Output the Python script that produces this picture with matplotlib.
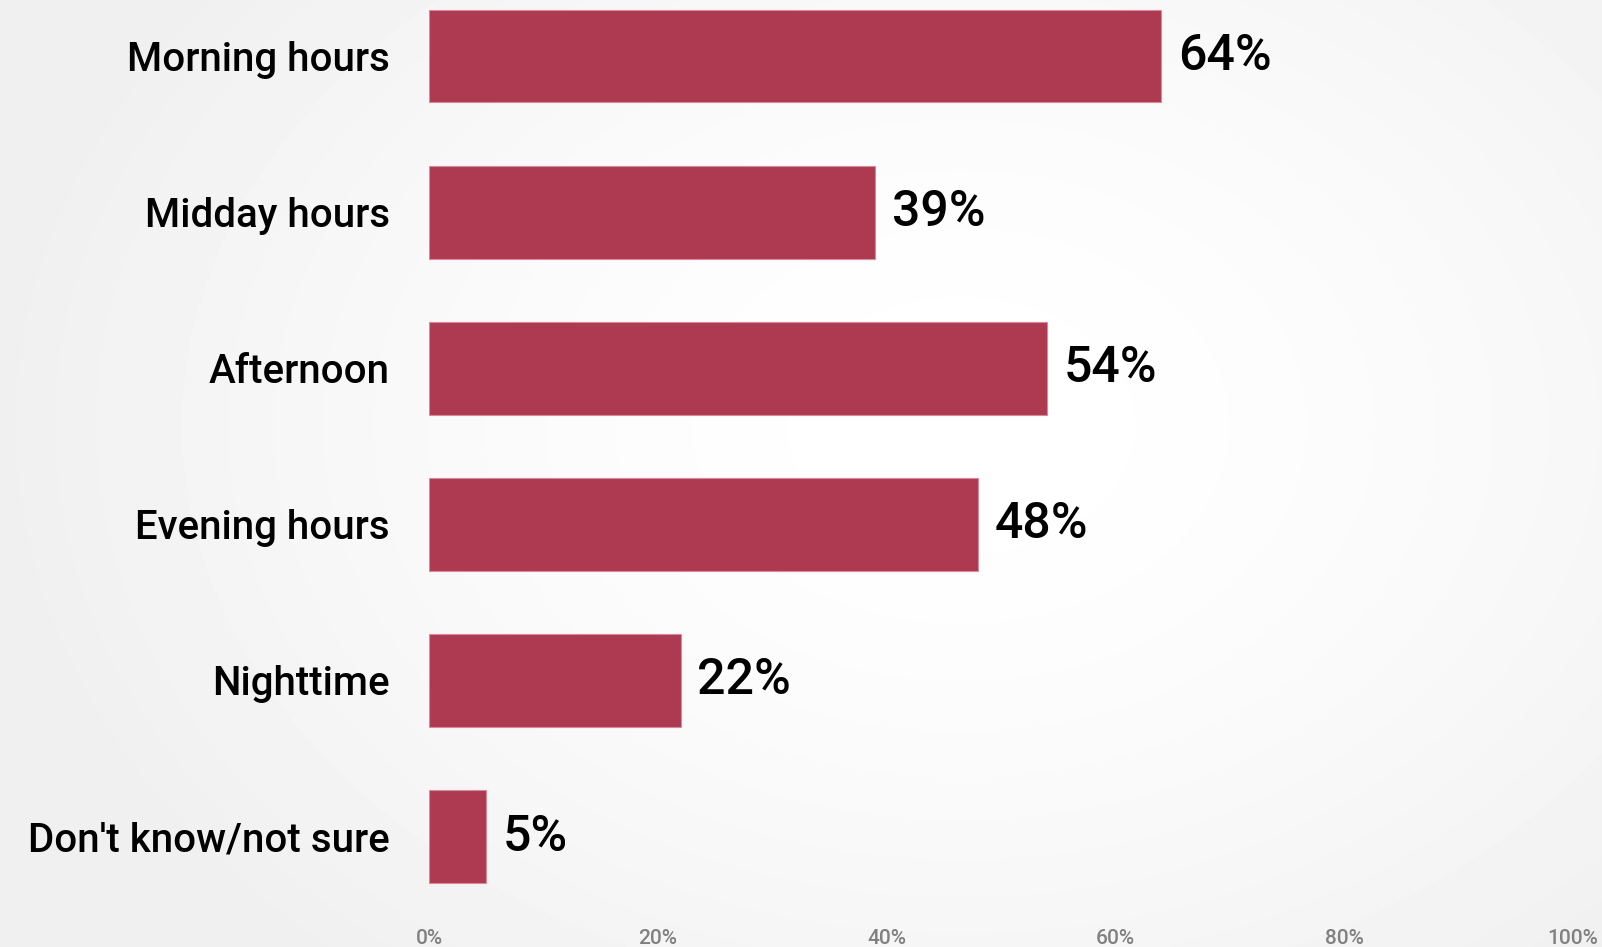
import numpy as np
import matplotlib
matplotlib.use("Agg")
import matplotlib.pyplot as plt

categories = ["Morning hours", "Midday hours", "Afternoon", "Evening hours",
              "Nighttime", "Don't know/not sure"]
values = [64, 39, 54, 48, 22, 5]
xticks = [0, 20, 40, 60, 80, 100]
xtick_labels = ["0%", "20%", "40%", "60%", "80%", "100%"]

BAR_COLOR = "#AD3A50"
FONT = ["Roboto", "DejaVu Sans"]

fig = plt.figure(figsize=(16.02, 9.47), dpi=100)

# soft radial backdrop, lighter towards the middle-right
bg = fig.add_axes([0, 0, 1, 1], zorder=-10)
yy, xx = np.mgrid[0:1:300j, 0:1:500j]
r = np.sqrt(((xx - 0.6) / 0.6) ** 2 + ((yy - 0.45) / 0.75) ** 2)
shade = 1.0 - 0.06 * np.clip(r, 0, 1) ** 1.6
bg.imshow(shade, cmap="gray", vmin=0, vmax=1, aspect="auto",
          extent=[0, 1, 0, 1], interpolation="bicubic")
bg.set_axis_off()

W, H = 1602, 947
spacing = 156.1
first_center = 56.0
top_px, bot_px = 0.0, 905.0
ax = fig.add_axes([429 / W, 1 - bot_px / H, (1573 - 429) / W, (bot_px - top_px) / H])
ax.patch.set_alpha(0)

pos = np.arange(len(categories))
ax.barh(pos, values, height=0.595, color=BAR_COLOR, edgecolor="#D98A9A", linewidth=0.8)
ax.set_ylim((bot_px - first_center) / spacing, (top_px - first_center) / spacing)
ax.set_xlim(0, 100)

for y, v in zip(pos, values):
    ax.annotate(f"{v}%", (v, y), xytext=(12, 0), textcoords="offset points",
                va="center", ha="left", fontsize=36, fontweight="medium",
                family=FONT, color="black")

ax.set_yticks(pos)
ax.set_yticklabels(categories, fontsize=29, fontweight="medium", family=FONT)
ax.tick_params(axis="y", length=0, pad=28)
ax.set_xticks(xticks)
ax.set_xticklabels(xtick_labels, fontsize=15, fontweight="medium", family=FONT, color="#808080")
ax.tick_params(axis="x", length=0, pad=17)
for s in ax.spines.values():
    s.set_visible(False)

fig.savefig("out.png", dpi=100)
